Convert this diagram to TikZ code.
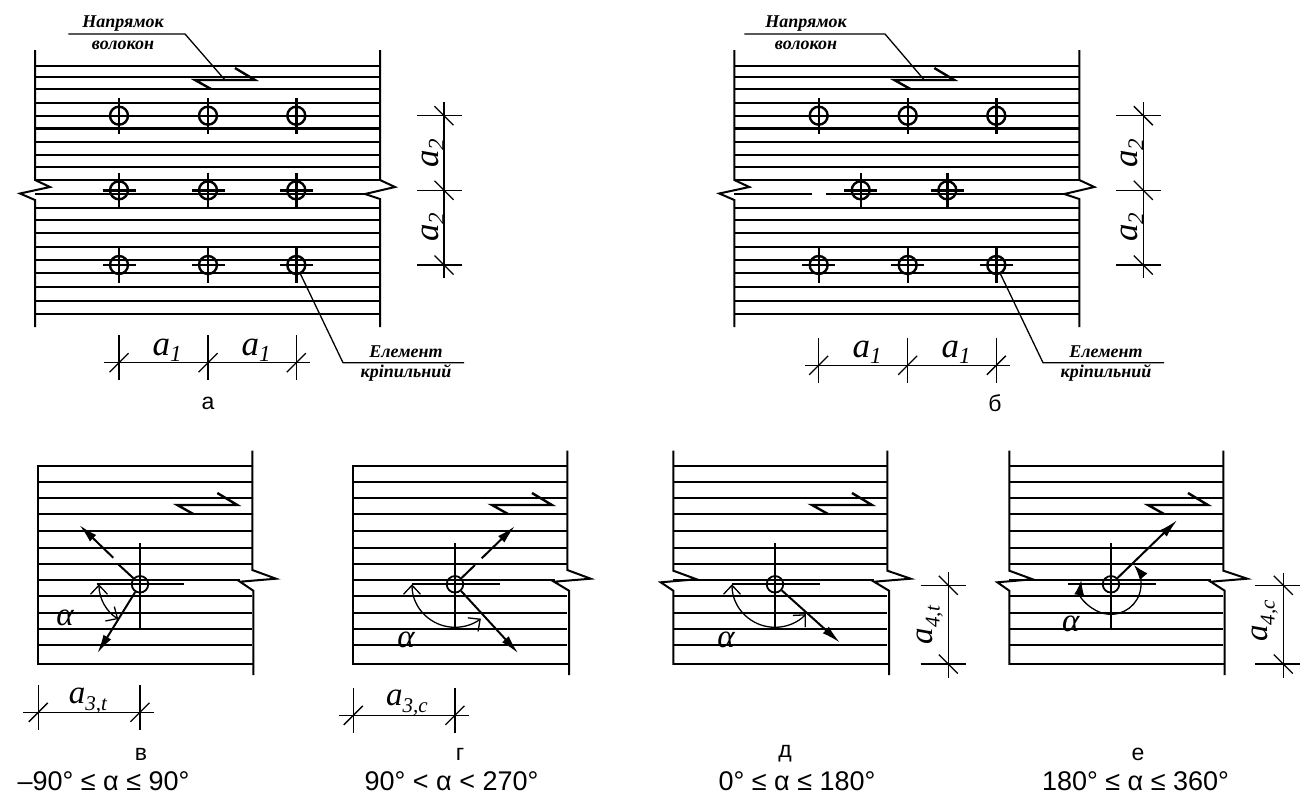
\documentclass[tikz,border=0pt]{standalone}
\usepackage{fontspec}
\setmainfont{Liberation Sans}
\newfontfamily\serifital{Liberation Serif}
\usetikzlibrary{arrows.meta}
\tikzset{
	grain/.style = {line width=1.8pt},
	heavy/.style = {line width=2.4pt},
	edgeline/.style = {line width=2pt, line join=miter},
	dimline/.style = {line width=1.3pt},
	boltmark/.style = {
		shape=circle,
		draw,
		line width=2.4pt,
		inner sep=0pt,
		minimum size=18pt
	},
	smallbolt/.style = {
		boltmark,
		minimum size=16.5pt,
		line width=1.8pt
	},
	note/.style = {
		font=\serifital\itshape\bfseries\fontsize{18}{18}\selectfont,
		inner sep=0pt
	},
	dimtext/.style = {
		font=\serifital\itshape,
		inner sep=0pt
	},
	alphatext/.style = {
		font=\serifital\itshape\fontsize{33}{33}\selectfont,
		inner sep=0pt
	},
	caption/.style = {
		font=\fontsize{23}{23}\selectfont,
		inner sep=0pt
	},
	rangetext/.style = {
		font=\fontsize{27}{27}\selectfont,
		inner sep=0pt
	},
	force/.style = {
		line width=2pt,
		-{Latex[length=19pt,width=9pt]}
	},
	swing/.style = {
		line width=1.3pt,
		{Straight Barb[length=9pt,width=17pt]}-{Straight Barb[length=9pt,width=17pt]}
	}
}
\newcommand{\grainlines}[3]{
	\foreach \liney in {#3} {
		\draw[grain] (#1,\liney) -- (#2,\liney);
	}
}
\newcommand{\grainmark}[2]{
	\draw[heavy] (#1+16,#2+9) -- (#1,#2) -- (#1+60,#2) -- (#1+40,#2-12);
}
\newcommand{\upslash}[2]{
	\draw[dimline] (#1-9.5,#2+9.5) -- (#1+9.5,#2-9.5);
}
\newcommand{\downslash}[2]{
	\draw[dimline] (#1-9.5,#2-9.5) -- (#1+9.5,#2+9.5);
}
\newcommand{\bigdim}[2]{{\fontsize{35}{35}\selectfont #1}{\fontsize{23}{23}\selectfont\raisebox{-6pt}{#2}}}
\newcommand{\lowdim}[2]{{\fontsize{33}{33}\selectfont #1}{\fontsize{21}{21}\selectfont\raisebox{-7pt}{#2}}}

\begin{document}
\begin{tikzpicture}[x=1pt,y=-1pt]
	\useasboundingbox (0,0) rectangle (1309,796);

	\foreach \shiftx/\panel in {0/a,699.3/b} {
		\begin{scope}[xshift=\shiftx pt]
			\grainlines{35}{380}{77,89,103,115.7,141.7,155,166.7,180,208,220,233,247,259.7,272.7,286.7,300.7}
			\draw[heavy] (35,65.7) -- (380,65.7);
			\draw[heavy] (35,128.3) -- (380,128.3);
			\draw[heavy] (35,314) -- (380,314);
			\draw[edgeline] (35,50) -- (35,180) -- (50,187) -- (20,193.5) -- (35,200) -- (35,327);
			\draw[edgeline] (380,50) -- (380,180) -- (395,187) -- (365,194) -- (380,199) -- (380,327);
			\grainmark{195}{80}
			\draw[dimline] (444,102) -- (444,278);
			\foreach \ticky in {115.7,190.3,265} {
				\draw[dimline] (417,\ticky) -- (462,\ticky);
				\downslash{444}{\ticky}
			}
			\node[dimtext, rotate=90] (a2top\panel) at (433,153) {\bigdim{a}{2}};
			\node[dimtext, rotate=90] (a2low\panel) at (433,227) {\bigdim{a}{2}};
		\end{scope}
	}

	% panel a
	\draw[grain] (35,193.7) -- (365,193.7);
	\foreach \boltx/\boltname in {119/p,208/q,296.3/r} {
		\node[boltmark] (a1\boltname) at (\boltx,115.7) {};
		\node[boltmark] (a2\boltname) at (\boltx,190.3) {};
		\node[boltmark] (a3\boltname) at (\boltx,265) {};
		\draw[heavy] (\boltx,98) -- (\boltx,133.5);
		\draw[heavy] (\boltx,172.7) -- (\boltx,208);
		\draw[heavy] (\boltx,247.5) -- (\boltx,282.7);
		\draw[heavy] (\boltx-16.5,190.3) -- (\boltx+16.5,190.3);
		\draw[heavy] (\boltx-16.5,265) -- (\boltx+16.5,265);
	}
	\coordinate (a-head) at (68.3,34);
	\coordinate (a-knee) at (185,34);
	\coordinate (a-end) at (225,80);
	\draw[dimline] (a-head) -- (a-knee) -- (a-end);
	\node[note] (a-dir1) at (123,23.5) {Напрямок};
	\node[note] (a-dir2) at (123,45) {волокон};
	\coordinate (a-foot) at (300,273);
	\coordinate (a-bend) at (343,362.7);
	\coordinate (a-tail) at (464,362.7);
	\draw[dimline] (a-foot) -- (a-bend) -- (a-tail);
	\node[note] (a-el1) at (406,352) {Елемент};
	\node[note] (a-el2) at (406,373) {кріпильний};
	\draw[dimline] (104,362.7) -- (310,362.7);
	\foreach \ticka in {119,208,296.3} {
		\draw[dimline] (\ticka,335) -- (\ticka,380);
		\upslash{\ticka}{362.7}
	}
	\node[dimtext] (a-a1l) at (167,350) {\bigdim{a}{1}};
	\node[dimtext] (a-a1r) at (256,350) {\bigdim{a}{1}};
	\node[caption] (a-cap) at (208,403) {а};

	% panel b
	\draw[grain] (734.3,193.7) -- (811.7,193.7);
	\draw[grain] (826,193.7) -- (1064.3,193.7);
	\foreach \boltx/\boltname in {818.7/p,907.7/q,996.3/r} {
		\node[boltmark] (b1\boltname) at (\boltx,115.7) {};
		\node[boltmark] (b3\boltname) at (\boltx,265) {};
		\draw[heavy] (\boltx,98) -- (\boltx,133.5);
		\draw[heavy] (\boltx,247.5) -- (\boltx,282.7);
		\draw[heavy] (\boltx-16.5,265) -- (\boltx+16.5,265);
	}
	\foreach \boltx/\boltname in {860.7/p,947.3/q} {
		\node[boltmark] (b2\boltname) at (\boltx,190.3) {};
		\draw[heavy] (\boltx,172.7) -- (\boltx,208);
		\draw[heavy] (\boltx-16.5,190.3) -- (\boltx+16.5,190.3);
	}
	\coordinate (b-head) at (744.3,34);
	\coordinate (b-knee) at (885,34);
	\coordinate (b-end) at (924.3,80);
	\draw[dimline] (b-head) -- (b-knee) -- (b-end);
	\node[note] (b-dir1) at (806,23.5) {Напрямок};
	\node[note] (b-dir2) at (806,45) {волокон};
	\coordinate (b-foot) at (1000,273);
	\coordinate (b-bend) at (1043,362.7);
	\coordinate (b-tail) at (1164,362.7);
	\draw[dimline] (b-foot) -- (b-bend) -- (b-tail);
	\node[note] (b-el1) at (1106,352) {Елемент};
	\node[note] (b-el2) at (1106,373) {кріпильний};
	\draw[dimline] (805,365.3) -- (1010,365.3);
	\foreach \ticka in {818.7,907.7,996.3} {
		\draw[dimline] (\ticka,337.7) -- (\ticka,382.7);
		\upslash{\ticka}{365.3}
	}
	\node[dimtext] (b-a1l) at (867,352) {\bigdim{a}{1}};
	\node[dimtext] (b-a1r) at (956,352) {\bigdim{a}{1}};
	\node[caption] (b-cap) at (995,403) {б};

	% panel v
	\grainlines{38.3}{252.3}{481.7,497.7,514.3,530.7,547.7,564,596.3,613,629,645.3}
	\draw[grain] (38.3,580.3) -- (240,580.3);
	\draw[edgeline] (38.3,465.7) -- (252.3,465.7) (38.3,664) -- (253.3,664);
	\draw[edgeline] (38.3,464.8) -- (38.3,664.9);
	\draw[edgeline] (252.3,450.7) -- (252.3,570) -- (276,578.7) -- (240,581.7) -- (253.3,590.7) -- (253.3,675);
	\grainmark{177.3}{505}
	\node[smallbolt] (v-bolt) at (140,584.3) {};
	\draw[grain] (140,543.3) -- (140,629);
	\draw[grain] (96.7,584.3) -- (184.3,584.3);
	\coordinate (v-gap1) at (118.3,564.3);
	\coordinate (v-gap2) at (113.3,557.7);
	\coordinate (v-tip1) at (79.3,525);
	\coordinate (v-tip2) at (97.3,653.3);
	\draw[line width=2pt] (v-bolt) -- (v-gap1);
	\draw[force] (v-gap2) -- (v-tip1);
	\draw[force] (v-bolt) -- (v-tip2);
	\draw[swing] ([shift=(180:41pt)]v-bolt.center) arc[start angle=180, end angle=238, radius=41pt];
	\node[alphatext] (v-alpha) at (65,617.5) {α};
	\draw[dimline] (23.3,712.3) -- (154,712.3);
	\draw[dimline] (38.3,685) -- (38.3,730);
	\draw[dimline] (140,685) -- (140,730);
	\upslash{38.3}{712.3}
	\upslash{140}{712.3}
	\node[dimtext] (v-a3t) at (88,701) {\lowdim{a}{3,t}};
	\node[caption] (v-cap) at (141,754) {в};
	\node[rangetext] (v-range) at (103.5,781) {–90° ≤ α ≤ 90°};

	% panel h
	\grainlines{353.3}{567.3}{481.7,497.7,514.3,530.7,547.7,564,596.3,613,629,645.3}
	\draw[grain] (353.3,580.3) -- (555,580.3);
	\draw[edgeline] (353.3,465.7) -- (567.3,465.7) (353.3,664) -- (569,664);
	\draw[edgeline] (353.3,464.8) -- (353.3,664.9);
	\draw[edgeline] (567.3,450.7) -- (567.3,570) -- (590.7,578.7) -- (554,581.7) -- (569,590.7) -- (569,675);
	\grainmark{492}{505}
	\node[smallbolt] (h-bolt) at (455,584.3) {};
	\draw[grain] (455,543.3) -- (455,629);
	\draw[grain] (411.7,584.3) -- (500,584.3);
	\coordinate (h-gap1) at (475,565);
	\coordinate (h-gap2) at (481.7,558.3);
	\coordinate (h-tip1) at (515,526);
	\coordinate (h-tip2) at (518.3,653.3);
	\draw[line width=2pt] (h-bolt) -- (h-gap1);
	\draw[force] (h-gap2) -- (h-tip1);
	\draw[force] (h-bolt) -- (h-tip2);
	\draw[swing] ([shift=(180:43pt)]h-bolt.center) arc[start angle=180, end angle=307, radius=43pt];
	\node[alphatext] (h-alpha) at (406,640) {α};
	\draw[dimline] (339,715.3) -- (469,715.3);
	\draw[dimline] (353.3,687.7) -- (353.3,733.3);
	\draw[dimline] (455,687.7) -- (455,733.3);
	\upslash{353.3}{715.3}
	\upslash{455}{715.3}
	\node[dimtext] (h-a3c) at (407,703) {\lowdim{a}{3,c}};
	\node[caption] (h-cap) at (460,754) {г};
	\node[rangetext] (h-range) at (451.5,781) {90° < α < 270°};

	% panel d
	\grainlines{673.3}{887.3}{481.7,497.7,514.3,530.7,547.7,564,596.3,613,629,645.3}
	\draw[grain] (673,580.3) -- (874,580.3);
	\draw[edgeline] (673.3,465.7) -- (887.3,465.7) (673.3,664) -- (889,664);
	\draw[edgeline] (673.3,450.7) -- (673.3,570.7) -- (696.7,579.3) -- (660.7,582.3) -- (673.3,590.7) -- (673.3,664.9);
	\draw[edgeline] (887.3,450.7) -- (887.3,570.7) -- (910.7,578.7) -- (874,581.7) -- (889,590.7) -- (889,675);
	\grainmark{812}{505}
	\node[smallbolt] (d-bolt) at (775,584.3) {};
	\draw[grain] (775,543.3) -- (775,629);
	\draw[grain] (731.7,584.3) -- (820,584.3);
	\coordinate (d-tip) at (840,642.7);
	\draw[force] (d-bolt) -- (d-tip);
	\draw[swing] ([shift=(180:43pt)]d-bolt.center) arc[start angle=180, end angle=316, radius=43pt];
	\node[alphatext] (d-alpha) at (726,640) {α};
	\draw[dimline] (948.3,571.7) -- (948.3,678);
	\draw[dimline] (920.7,585.3) -- (966,585.3);
	\draw[dimline] (920.7,664) -- (966,664);
	\downslash{948.3}{585.3}
	\downslash{948.3}{664}
	\node[dimtext, rotate=90] (d-a4t) at (930,625) {\lowdim{a}{4,t}};
	\node[caption] (d-cap) at (785,754) {д};
	\node[rangetext] (d-range) at (797,781) {0° ≤ α ≤ 180°};

	% panel e
	\grainlines{1009.3}{1223.3}{481.7,497.7,514.3,530.7,547.7,564,596.3,613,629,645.3}
	\draw[grain] (1009.3,580.3) -- (1211,580.3);
	\draw[edgeline] (1009.3,465.7) -- (1223.3,465.7) (1009.3,664) -- (1224.7,664);
	\draw[edgeline] (1009.3,450.7) -- (1009.3,570.7) -- (1032.7,579.3) -- (997.3,582.3) -- (1009.3,590.7) -- (1009.3,664.9);
	\draw[edgeline] (1223.3,450.7) -- (1223.3,570.7) -- (1247.3,578.7) -- (1210.7,581.7) -- (1224.7,590.7) -- (1224.7,675);
	\grainmark{1148}{505}
	\node[smallbolt] (e-bolt) at (1111,584.3) {};
	\draw[grain] (1111,543.3) -- (1111,629);
	\draw[grain] (1068.3,584.3) -- (1155.7,584.3);
	\coordinate (e-tip) at (1177.3,520);
	\draw[force] (e-bolt) -- (e-tip);
	\draw[dimline, {Latex[length=15pt,width=10pt]}-{Latex[length=15pt,width=10pt]}] ([shift=(172:30pt)]e-bolt.center) arc[start angle=172, end angle=400, radius=30pt];
	\node[alphatext] (e-alpha) at (1070.7,623.5) {α};
	\draw[dimline] (1283.3,572.7) -- (1283.3,678.3);
	\draw[dimline] (1255,585.3) -- (1300,585.3);
	\draw[dimline] (1255,664) -- (1300,664);
	\downslash{1283.3}{585.3}
	\downslash{1283.3}{664}
	\node[dimtext, rotate=90] (e-a4c) at (1265,621) {\lowdim{a}{4,c}};
	\node[caption] (e-cap) at (1138,754) {е};
	\node[rangetext] (e-range) at (1135.5,781) {180° ≤ α ≤ 360°};
\end{tikzpicture}
\end{document}
